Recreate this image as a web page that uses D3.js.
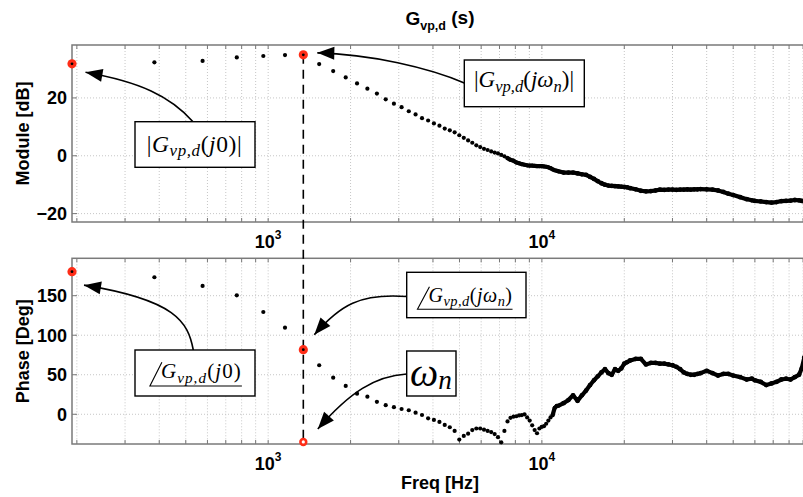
<!DOCTYPE html>
<html>
<head>
<meta charset="utf-8">
<script src="https://cdnjs.cloudflare.com/ajax/libs/d3/7.8.5/d3.min.js"></script>
<style>
body { margin: 0; background: #fff; }
svg { display: block; }
</style>
</head>
<body>
<script>
// low frequency bins (measured points, one per bin)
var binFreq = [192, 384, 576, 768, 960, 1152, 1344, 1536, 1728, 1920,
  2112, 2304, 2496, 2688, 2880, 3072, 3264, 3456, 3648, 3840,
  4032, 4224, 4416, 4608, 4800, 4992, 5184, 5376, 5568, 5760,
  5952, 6144, 6336, 6528, 6720, 6912, 7104, 7296, 7488, 7680,
  7872, 8064, 8256, 8448, 8640, 8832, 9024, 9216, 9408, 9600,
  9792, 9984, 10176, 10368, 10560, 10752, 10944, 11136, 11328, 11520];

var binMagDb = [31.8, 32.3, 32.8, 34.0, 34.5, 34.8, 34.9, 31.7, 29.3, 27.1,
  25.0, 23.2, 21.5, 19.5, 18.0, 16.8, 15.4, 14.3, 13.0, 12.2,
  11.2, 10.4, 9.4, 8.8, 8.1, 7.1, 6.2, 5.3, 4.5, 3.6,
  3.0, 2.4, 2.0, 1.5, 1.1, 0.8, 0.3, -0.2, -0.8, -1.4,
  -1.7, -2.3, -2.6, -2.9, -3.1, -3.3, -3.4, -3.4, -3.5, -3.6,
  -3.6, -3.6, -3.7, -3.8, -4.0, -4.3, -4.7, -5.0, -5.2, -5.4];

var binPhaseDeg = [180.4, 173.3, 162.3, 150.5, 129.4, 109.5, 81.7, 62, 46.3, 35.8,
  26, 22.3, 15.8, 11.5, 9, 6.7, 5.1, 2.0, -0.9, -5.1,
  -7.2, -9.7, -13.5, -16.4, -21.1, -32, -27.4, -24.5, -20, -18,
  -18, -19.5, -21, -22.5, -25, -29, -35.5, -21, -9, -4.5,
  -3, -2.5, -1.5, -1, 0, -4, -8, -14, -20, -24,
  -18, -16, -15, -12, -8, -4, -1, 8, 10.5, 11];

// high frequency part (points so dense they merge into a thick trace)
var hiFreq = [12000, 12500, 13000, 13500, 14000, 14500, 15000, 15500, 16000, 16500,
  17000, 17500, 18000, 18500, 19000, 19500, 20000, 20500, 21000, 22000,
  23000, 24000, 25000, 26000, 27000, 28000, 29000, 30000, 31000, 32000,
  33000, 34000, 35000, 36000, 37000, 38000, 40000, 42000, 44000, 46000,
  48000, 50000, 53000, 56000, 58500, 60000, 63000, 66000, 69000, 72000,
  75000, 78000, 81000, 84000, 87000, 89000, 91000];

var hiMagDb = [-5.8, -5.8, -5.8, -6.1, -6.4, -6.6, -7.3, -8.0, -8.8, -9.5,
  -10.0, -10.3, -10.4, -10.5, -10.6, -10.7, -10.8, -10.9, -11.2, -11.6,
  -12.1, -12.3, -12.2, -12.0, -11.7, -11.8, -11.7, -11.7, -11.8, -11.7,
  -11.7, -11.6, -11.7, -11.6, -11.6, -11.5, -11.6, -11.7, -12.0, -12.5,
  -13.1, -13.6, -14.3, -15.0, -15.4, -15.6, -15.8, -16.0, -16.2, -16.0,
  -15.7, -15.6, -15.5, -15.3, -15.4, -15.6, -15.7];

var hiPhaseDeg = [14, 18, 24, 17, 24, 30, 37, 43, 48, 53,
  57, 52, 50, 57, 55, 58, 64, 66, 68, 70,
  70, 63, 65, 65, 64, 64, 63, 62, 60, 57,
  53, 51, 50, 50, 51, 52, 55, 52, 49, 51,
  51, 49, 47, 44, 45, 43, 41, 37, 39, 41,
  44, 45, 44, 47, 50, 58, 72];

var magTicks = [-20, 0, 20];
var phaseTicks = [0, 50, 100, 150];
var decadeTicks = [1000, 10000];
var wnIndex = 6;        // bin used for the natural frequency
var wnAxisDeg = -35;    // marker put on the bottom of the phase plot

var RED = "#ff2d17";
var SANS = '"Liberation Sans", Arial, Helvetica, sans-serif';
var TIMES = '"Liberation Serif", "Times New Roman", serif';

var svg = d3.select("body").append("svg").attr("width", 803).attr("height", 497);

var x = d3.scaleLog().domain([192, 100000]).range([72, 815.6]);
var yMag = d3.scaleLinear().domain([-22.9, 38.3]).range([222, 45]);
var yPh = d3.scaleLinear().domain([-37.6, 197.3]).range([444, 258.3]);

function drawPanel(y, ticks, label) {
	var top = y.range()[1], bot = y.range()[0];
	var left = x.range()[0], right = x.range()[1];
	var g = svg.append("g");
	var grid = x.ticks().filter(function(v) { return v > x.domain()[0]; });

	g.selectAll(".vg").data(grid).enter().append("line")
		.attr("x1", function(d) { return x(d); }).attr("x2", function(d) { return x(d); })
		.attr("y1", top).attr("y2", bot)
		.attr("stroke", "#c6c6c6").attr("stroke-dasharray", "1,2");
	g.selectAll(".hg").data(ticks).enter().append("line")
		.attr("x1", left).attr("x2", right)
		.attr("y1", function(d) { return y(d); }).attr("y2", function(d) { return y(d); })
		.attr("stroke", "#c6c6c6").attr("stroke-dasharray", "1,2");

	// tick marks, inside the box (bottom, top, left)
	g.selectAll(".tb").data(grid).enter().append("line")
		.attr("x1", function(d) { return x(d); }).attr("x2", function(d) { return x(d); })
		.attr("y1", bot).attr("y2", bot - 4).attr("stroke", "#777");
	g.selectAll(".tt").data(grid).enter().append("line")
		.attr("x1", function(d) { return x(d); }).attr("x2", function(d) { return x(d); })
		.attr("y1", top).attr("y2", top + 4).attr("stroke", "#777");
	g.selectAll(".tl").data(ticks).enter().append("line")
		.attr("x1", left).attr("x2", left + 5)
		.attr("y1", function(d) { return y(d); }).attr("y2", function(d) { return y(d); })
		.attr("stroke", "#777");

	g.append("rect").attr("x", left).attr("y", top)
		.attr("width", right - left).attr("height", bot - top)
		.attr("fill", "none").attr("stroke", "#7a7a7a").attr("stroke-width", 1.5);

	g.selectAll(".yl").data(ticks).enter().append("text")
		.attr("x", left - 5).attr("y", function(d) { return y(d); })
		.attr("dy", "0.36em").attr("text-anchor", "end")
		.style("font-family", SANS).style("font-weight", "bold").style("font-size", "18px")
		.text(function(d) { return d < 0 ? "\u2212" + (-d) : d; });

	var xl = g.selectAll(".xl").data(decadeTicks).enter().append("text")
		.attr("x", function(d) { return x(d); }).attr("y", bot + 26)
		.attr("text-anchor", "middle")
		.style("font-family", SANS).style("font-weight", "bold").style("font-size", "18px");
	xl.append("tspan").text("10");
	xl.append("tspan").attr("dy", -9).style("font-size", "12px")
		.text(function(d) { return Math.round(Math.log10(d)); });

	g.append("text")
		.attr("transform", "translate(29," + ((top + bot) / 2) + ") rotate(-90)")
		.attr("text-anchor", "middle")
		.style("font-family", SANS).style("font-weight", "bold").style("font-size", "18px")
		.text(label);
}

drawPanel(yMag, magTicks, "Module [dB]");
drawPanel(yPh, phaseTicks, "Phase [Deg]");

// title and x label
var title = svg.append("text").attr("x", 440).attr("y", 25).attr("text-anchor", "middle")
	.style("font-family", SANS).style("font-weight", "bold").style("font-size", "19px");
title.append("tspan").text("G");
title.append("tspan").attr("dy", 5).style("font-size", "12.5px").text("vp,d");
title.append("tspan").attr("dy", -6).text(" (s)");

svg.append("text").attr("x", 440).attr("y", 489).attr("text-anchor", "middle")
	.style("font-family", SANS).style("font-weight", "bold").style("font-size", "18px")
	.text("Freq [Hz]");

// dashed line at the natural frequency
svg.append("line")
	.attr("x1", x(binFreq[wnIndex])).attr("x2", x(binFreq[wnIndex]))
	.attr("y1", yMag(binMagDb[wnIndex])).attr("y2", yPh(wnAxisDeg))
	.attr("stroke", "#000").attr("stroke-width", 1.6).attr("stroke-dasharray", "9,6");

function drawSeries(y, vals, hiVals, lineFrom) {
	var g = svg.append("g");
	var pts = binFreq.slice(lineFrom).map(function(f, i) { return [f, vals[i + lineFrom]]; })
		.concat(hiFreq.map(function(f, i) { return [f, hiVals[i]]; }));
	var line = d3.line()
		.x(function(d) { return x(d[0]); })
		.y(function(d) { return y(d[1]); });
	g.append("path").datum(pts).attr("d", line)
		.attr("fill", "none").attr("stroke", "#000").attr("stroke-width", 4.2)
		.attr("stroke-linejoin", "round").attr("stroke-linecap", "round");
	g.selectAll(".lo").data(binFreq).enter().append("circle")
		.attr("cx", function(d) { return x(d); })
		.attr("cy", function(d, i) { return y(vals[i]); })
		.attr("r", 2.1).attr("fill", "#000");
	g.selectAll(".hi").data(hiFreq).enter().append("circle")
		.attr("cx", function(d) { return x(d); })
		.attr("cy", function(d, i) { return y(hiVals[i]); })
		.attr("r", 2.4).attr("fill", "#000");
}

drawSeries(yMag, binMagDb, hiMagDb, 38);
drawSeries(yPh, binPhaseDeg, hiPhaseDeg, 56);

function redMark(cx, cy) {
	svg.append("circle").attr("cx", cx).attr("cy", cy).attr("r", 4.6).attr("fill", RED);
	svg.append("circle").attr("cx", cx).attr("cy", cy).attr("r", 1.4).attr("fill", "#000");
}
redMark(x(binFreq[0]), yMag(binMagDb[0]));
redMark(x(binFreq[wnIndex]), yMag(binMagDb[wnIndex]));
redMark(x(binFreq[0]), yPh(binPhaseDeg[0]));
redMark(x(binFreq[wnIndex]), yPh(binPhaseDeg[wnIndex]));
svg.append("circle").attr("cx", x(binFreq[wnIndex])).attr("cy", yPh(wnAxisDeg))
	.attr("r", 4.2).attr("fill", RED);
svg.append("circle").attr("cx", x(binFreq[wnIndex])).attr("cy", yPh(wnAxisDeg))
	.attr("r", 1.6).attr("fill", "#fff");

// curved arrows: start, two control points, tip
function arrow(p0, c1, c2, tip) {
	svg.append("path")
		.attr("d", "M" + p0 + "C" + c1 + " " + c2 + " " + tip)
		.attr("fill", "none").attr("stroke", "#000").attr("stroke-width", 1.6);
	var dx = tip[0] - c2[0], dy = tip[1] - c2[1];
	var len = Math.sqrt(dx * dx + dy * dy);
	dx /= len; dy /= len;
	var L = 17, W = 6.5;
	var bx = tip[0] - dx * L, by = tip[1] - dy * L;
	svg.append("path")
		.attr("d", "M" + tip + "L" + [bx - dy * W, by + dx * W] + "L" + [bx + dy * W, by - dx * W] + "Z")
		.attr("fill", "#000");
}

var m0 = [x(binFreq[0]), yMag(binMagDb[0])];
var mn = [x(binFreq[wnIndex]), yMag(binMagDb[wnIndex])];
var p0 = [x(binFreq[0]), yPh(binPhaseDeg[0])];
var pn = [x(binFreq[wnIndex]), yPh(binPhaseDeg[wnIndex])];
var wz = [x(binFreq[wnIndex]), yPh(wnAxisDeg)];

arrow([193, 121.7], [170, 96], [140, 82], [m0[0] + 13.5, m0[1] + 8.5]);
arrow([464.3, 83], [430, 68], [370, 54], [mn[0] + 14, mn[1] - 2]);
arrow([193.3, 350], [188, 322], [176, 300], [p0[0] + 12, p0[1] + 13.5]);
arrow([406.7, 296.5], [360, 293], [340, 305], [pn[0] + 11, pn[1] - 15]);
arrow([406.7, 374], [375, 376], [350, 392], [wz[0] + 14.5, wz[1] - 13]);

// annotation boxes with math text
function box(x0, y0, w, h) {
	svg.append("rect").attr("x", x0).attr("y", y0).attr("width", w).attr("height", h)
		.attr("fill", "#fff").attr("stroke", "#000").attr("stroke-width", 1.4);
}

function mathText(cx, base, size, parts, spacing, subScale, subDrop) {
	var t = svg.append("text").attr("x", cx).attr("y", base).attr("text-anchor", "middle")
		.style("font-family", TIMES).style("font-size", size + "px")
		.style("letter-spacing", spacing + "px");
	var shift = 0;
	parts.forEach(function(p) {
		var s = t.append("tspan").text(p.t);
		if (p.it) s.style("font-style", "italic");
		var want = p.sub ? size * subDrop : 0;
		if (want != shift) { s.attr("dy", want - shift); shift = want; }
		if (p.sub) s.style("font-size", (size * subScale) + "px");
	});
	return t;
}

function angleMark(t) {
	var b = t.node().getBBox();
	var uy = b.y + b.height + 0.5;
	svg.append("path")
		.attr("d", "M" + [b.x + 1, b.y + 3] + "L" + [b.x - 11, uy] + "L" + [b.x + b.width, uy])
		.attr("fill", "none").attr("stroke", "#000").attr("stroke-width", 1.1);
}

var absJ0 = [{t: "|"}, {t: "G", it: 1}, {t: "vp,d", it: 1, sub: 1}, {t: "("}, {t: "j", it: 1}, {t: "0"}, {t: ")|"}];
var absJwn = [{t: "|"}, {t: "G", it: 1}, {t: "vp,d", it: 1, sub: 1}, {t: "("}, {t: "j\u03c9", it: 1}, {t: "n", it: 1, sub: 1}, {t: ")|"}];
var angJ0 = [{t: "G", it: 1}, {t: "vp,d", it: 1, sub: 1}, {t: "("}, {t: "j", it: 1}, {t: "0"}, {t: ")"}];
var angJwn = [{t: "G", it: 1}, {t: "vp,d", it: 1, sub: 1}, {t: "("}, {t: "j\u03c9", it: 1}, {t: "n", it: 1, sub: 1}, {t: ")"}];
var wnText = [{t: "\u03c9", it: 1}, {t: "n", it: 1, sub: 1}];

box(135, 121.7, 120, 45.6);
mathText(194.5, 151.7, 23.5, absJ0, 0.6, 0.72, 0.2);

box(464.3, 60, 120, 46.7);
mathText(524, 87.3, 23, absJwn, 0, 0.72, 0.2);

box(135, 350, 120, 46);
angleMark(mathText(201.4, 378.3, 21, angJ0, 1.1, 0.72, 0.2));

box(406.7, 272.3, 119.3, 45.4);
angleMark(mathText(470.5, 301.7, 20, angJwn, 0.5, 0.72, 0.2));

box(406.7, 351, 49.3, 45);
mathText(431, 385.5, 40, wnText, 0, 0.68, 0.08);
</script>
</body>
</html>
